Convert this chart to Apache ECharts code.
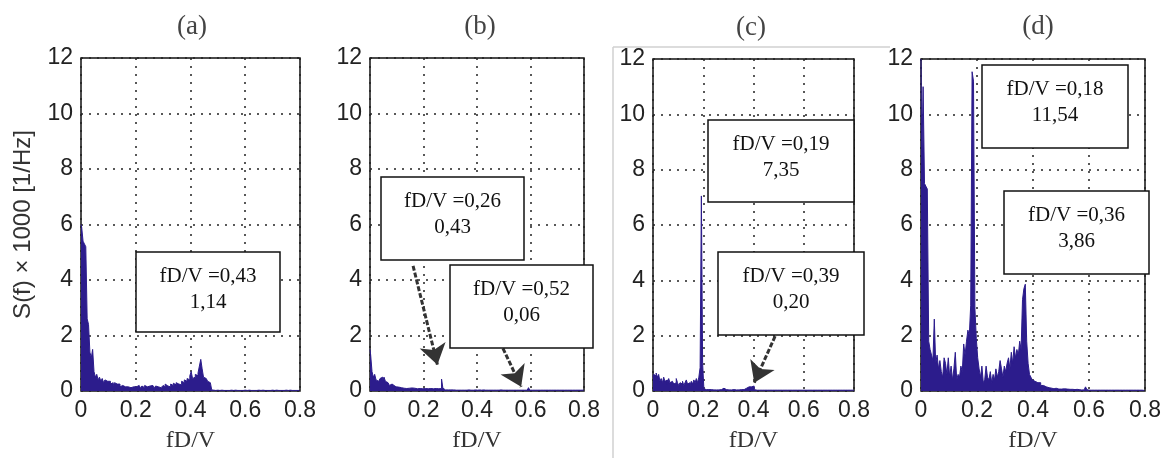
<!DOCTYPE html>
<html>
<head>
<meta charset="utf-8">
<script src="https://cdn.jsdelivr.net/npm/echarts@6/dist/echarts.min.js"></script>
<style>html,body{margin:0;padding:0;background:#fff}#c{width:1164px;height:458px}</style>
</head>
<body>
<div id="c"></div>
<script>
// ---- data (step 0.005 in fD/V) ----
const panelTitles = ['(a)', '(b)', '(c)', '(d)'];
const xTicks = [0, 0.2, 0.4, 0.6, 0.8];
const yTicks = [0, 2, 4, 6, 8, 10, 12];
const freq = Array.from({length: 161}, (_, i) => +(i * 0.005).toFixed(3));

const specA = [
 6.0,5.9,5.4,5.3,5.2,2.6,2.4,1.4,1.2,1.5,
 0.7,0.5,0.6,0.4,0.5,0.35,0.45,0.3,0.4,0.35,
 0.3,0.35,0.25,0.3,0.2,0.3,0.25,0.2,0.25,0.15,
 0.2,0.25,0.15,0.2,0.15,0.2,0.12,0.18,0.15,0.1,
 0.15,0.12,0.2,0.15,0.1,0.18,0.12,0.2,0.15,0.22,
 0.18,0.12,0.2,0.15,0.1,0.18,0.15,0.2,0.12,0.18,
 0.2,0.15,0.25,0.18,0.22,0.15,0.25,0.2,0.28,0.22,
 0.3,0.25,0.3,0.22,0.35,0.3,0.4,0.35,0.45,0.4,
 0.55,0.7,0.45,0.5,0.6,0.55,0.65,0.9,1.14,0.8,
 0.5,0.45,0.4,0.35,0.3,0.3,0.04,0.03,0.03,0.02,
 0.03,0.02,0.03,0.03,0.02,0.03,0.02,0.03,0.02,0.03,
 0.03,0.02,0.03,0.03,0.02,0.03,0.02,0.03,0.02,0.03,
 0.03,0.02,0.03,0.03,0.02,0.03,0.02,0.03,0.02,0.03,
 0.03,0.02,0.03,0.03,0.02,0.03,0.02,0.03,0.02,0.03,
 0.03,0.02,0.03,0.03,0.02,0.03,0.02,0.03,0.02,0.03,
 0.03,0.02,0.03,0.03,0.02,0.03,0.02,0.03,0.02,0.03,
 0.02
];
const specB = [
 1.5,1.3,0.7,0.5,0.6,0.4,0.35,0.3,0.45,0.5,
 0.4,0.5,0.35,0.3,0.25,0.2,0.25,0.18,0.2,0.15,
 0.18,0.14,0.15,0.12,0.14,0.1,0.12,0.09,0.11,0.1,
 0.08,0.11,0.09,0.1,0.12,0.08,0.1,0.09,0.11,0.08,
 0.1,0.09,0.12,0.08,0.1,0.09,0.11,0.08,0.1,0.09,
 0.12,0.08,0.1,0.09,0.43,0.1,0.04,0.05,0.04,0.03,
 0.04,0.03,0.04,0.05,0.03,0.04,0.03,0.04,0.03,0.04,
 0.03,0.04,0.03,0.03,0.04,0.03,0.04,0.03,0.03,0.04,
 0.03,0.03,0.04,0.03,0.03,0.04,0.03,0.03,0.03,0.04,
 0.03,0.03,0.03,0.04,0.03,0.03,0.03,0.03,0.04,0.03,
 0.03,0.03,0.03,0.03,0.03,0.03,0.03,0.03,0.03,0.03,
 0.03,0.03,0.03,0.03,0.03,0.03,0.03,0.03,0.04,0.12,
 0.03,0.03,0.03,0.03,0.03,0.03,0.03,0.03,0.03,0.03,
 0.03,0.03,0.03,0.03,0.03,0.03,0.03,0.03,0.03,0.03,
 0.03,0.03,0.03,0.03,0.03,0.03,0.03,0.03,0.03,0.03,
 0.03,0.03,0.03,0.03,0.03,0.03,0.03,0.03,0.03,0.03,
 0.02
];
const specC = [
 0.5,0.6,0.55,0.65,0.5,0.6,0.35,0.45,0.3,0.5,
 0.35,0.4,0.25,0.45,0.3,0.35,0.4,0.25,0.3,0.45,
 0.3,0.2,0.3,0.25,0.35,0.2,0.3,0.4,0.25,0.3,
 0.2,0.35,0.25,0.4,0.3,0.45,0.3,0.5,0.85,7.05,
 1.0,0.08,0.05,0.04,0.05,0.04,0.05,0.04,0.04,0.05,
 0.04,0.05,0.04,0.04,0.05,0.04,0.1,0.12,0.05,0.04,
 0.04,0.05,0.04,0.04,0.05,0.04,0.04,0.05,0.04,0.04,
 0.05,0.04,0.05,0.04,0.1,0.14,0.12,0.15,0.13,0.15,
 0.18,0.05,0.03,0.03,0.03,0.03,0.03,0.03,0.03,0.03,
 0.03,0.03,0.03,0.03,0.03,0.03,0.03,0.03,0.03,0.03,
 0.03,0.03,0.03,0.03,0.03,0.03,0.03,0.03,0.03,0.03,
 0.03,0.03,0.03,0.03,0.03,0.03,0.03,0.03,0.03,0.03,
 0.03,0.03,0.03,0.03,0.03,0.03,0.03,0.03,0.03,0.03,
 0.03,0.03,0.03,0.03,0.03,0.03,0.03,0.03,0.03,0.03,
 0.03,0.03,0.03,0.03,0.03,0.03,0.03,0.03,0.03,0.03,
 0.03,0.03,0.03,0.03,0.03,0.03,0.03,0.03,0.03,0.03,
 0.02
];
const specD = [
 12,8.0,11.0,7.5,7.4,7.3,1.8,1.5,1.3,1.1,
 2.6,1.0,1.3,0.8,1.1,0.7,0.5,1.2,1.0,0.6,
 1.2,0.5,0.9,0.4,0.8,1.4,0.4,0.6,0.5,0.9,
 0.7,1.7,1.3,1.8,2.2,2.0,3.1,11.54,11.2,3.0,
 1.9,1.2,0.8,0.5,0.9,0.3,0.4,0.9,0.5,0.4,
 0.7,0.3,0.6,0.4,0.8,0.5,0.7,1.1,0.8,0.5,
 0.9,0.7,1.0,1.2,0.8,1.4,1.0,1.6,1.2,1.5,
 1.3,1.8,1.5,3.3,3.7,3.86,1.8,1.0,0.6,0.5,
 0.4,0.35,0.4,0.3,0.25,0.3,0.2,0.2,0.25,0.15,
 0.15,0.12,0.15,0.1,0.1,0.08,0.1,0.08,0.07,0.08,
 0.07,0.06,0.08,0.06,0.07,0.05,0.06,0.05,0.06,0.05,
 0.05,0.06,0.05,0.05,0.04,0.05,0.04,0.05,0.15,0.05,
 0.03,0.03,0.03,0.03,0.03,0.03,0.03,0.03,0.03,0.03,
 0.03,0.03,0.03,0.03,0.03,0.03,0.03,0.03,0.03,0.03,
 0.03,0.03,0.03,0.03,0.03,0.03,0.03,0.03,0.03,0.03,
 0.03,0.03,0.03,0.03,0.03,0.03,0.03,0.03,0.03,0.03,
 0.02
];
const spectra = [specA, specB, specC, specD];

// annotation texts
const notes = [
  [['fD/V =0,43', '1,14']],
  [['fD/V =0,26', '0,43'], ['fD/V =0,52', '0,06']],
  [['fD/V =0,19', '7,35'], ['fD/V =0,39', '0,20']],
  [['fD/V =0,18', '11,54'], ['fD/V =0,36', '3,86']]
];
// arrows [from, to] in data coords
const arrowsB = [[[0.161, 4.51], [0.252, 0.95]], [[0.497, 1.54], [0.565, 0.15]]];
const arrowsC = [[[0.486, 1.98], [0.403, 0.30]]];

// ---- layout (pixels) ----
const grids = [
  {left: 81, top: 58, width: 219, height: 335},
  {left: 370, top: 58, width: 214, height: 335},
  {left: 653, top: 59, width: 201, height: 334},
  {left: 921, top: 59, width: 224, height: 334}
];
const boxes = [
  [[136, 252, 144, 80]],
  [[381, 177, 143, 83], [450, 265, 143, 83]],
  [[708, 120, 146, 82], [718, 252, 146, 83]],
  [[982, 65, 146, 83], [1004, 191, 145, 83]]
];
const titlePos = [[192, 27], [480, 27], [751, 28], [1038, 27]];

const COLOR = '#2c1c8c';
const tickFont = "'Liberation Sans Narrow','Arial Narrow','Liberation Sans',sans-serif";
const serif = "'Liberation Serif','Times New Roman',serif";

const xAxes = grids.map((g, k) => ({
  type: 'value', gridIndex: k, min: 0, max: 0.8, interval: 0.2,
  axisLine: {show: false}, axisTick: {show: false},
  axisLabel: {fontSize: 23, fontFamily: tickFont, color: '#222', margin: 8,
    formatter: v => v === 0 ? '0' : v.toFixed(1)},
  splitLine: {show: true, lineStyle: {type: [2, 6], color: '#222', width: 1.5}},
  name: 'fD/V', nameLocation: 'middle', nameGap: 38,
  nameTextStyle: {fontFamily: serif, fontSize: 24, color: '#333'}
}));
const yAxes = grids.map((g, k) => ({
  type: 'value', gridIndex: k, min: 0, max: 12, interval: 2,
  axisLine: {show: false}, axisTick: {show: false},
  axisLabel: {fontSize: 23, fontFamily: tickFont, color: '#222', margin: 8},
  splitLine: {show: true, lineStyle: {type: [2, 6], color: '#222', width: 1.5}},
  name: k === 0 ? 'S(f) × 1000 [1/Hz]' : '', nameLocation: 'middle', nameGap: 46,
  nameTextStyle: {fontFamily: "'Liberation Sans',sans-serif", fontSize: 24, color: '#333'}
}));

function arrowMark(list) {
  return {
    silent: true, symbol: ['none', 'arrow'], symbolSize: 20, label: {show: false},
    lineStyle: {color: '#333', width: 3, type: [5, 2]},
    itemStyle: {color: '#000'},
    data: list.map(a => [{coord: a[0]}, {coord: a[1]}])
  };
}

const series = spectra.map((s, k) => {
  const o = {
    type: 'line', xAxisIndex: k, yAxisIndex: k, step: 'middle',
    showSymbol: false, animation: false, clip: true,
    lineStyle: {color: COLOR, width: 1}, areaStyle: {color: COLOR, opacity: 1},
    data: freq.map((f, i) => [f, s[i]])
  };
  if (k === 1) o.markLine = arrowMark(arrowsB);
  if (k === 2) o.markLine = arrowMark(arrowsC);
  return o;
});

const graphic = [];
// faint frame lines around panel (c) (scan artefact)
graphic.push({type: 'line', z: 1, shape: {x1: 613, y1: 47, x2: 890, y2: 47}, style: {stroke: '#d0d0d0', lineWidth: 1.5}});
graphic.push({type: 'line', z: 1, shape: {x1: 613, y1: 47, x2: 613, y2: 458}, style: {stroke: '#d0d0d0', lineWidth: 1.5}});
titlePos.forEach((p, k) => graphic.push({
  type: 'text', z: 50, x: p[0], y: p[1],
  style: {text: panelTitles[k], font: "27px " + serif, fill: '#444', textAlign: 'center', textVerticalAlign: 'middle'}
}));
boxes.forEach((bl, k) => bl.forEach((b, j) => {
  graphic.push({type: 'rect', z: 60, shape: {x: b[0], y: b[1], width: b[2], height: b[3]},
    style: {fill: '#fff', stroke: '#111', lineWidth: 1.5}});
  graphic.push({type: 'text', z: 61, x: b[0] + b[2] / 2, y: b[1] + 11,
    style: {text: notes[k][j].join('\n'), font: "21px " + serif, lineHeight: 26, fill: '#111',
      textAlign: 'center', textVerticalAlign: 'top'}});
}));

const chart = echarts.init(document.getElementById('c'), null, {renderer: 'canvas'});
chart.setOption({
  animation: false,
  backgroundColor: '#fff',
  grid: grids.map(g => Object.assign({show: true, borderColor: '#111', borderWidth: 1.5, backgroundColor: 'transparent'}, g)),
  xAxis: xAxes, yAxis: yAxes, series, graphic
});
</script>
</body>
</html>
